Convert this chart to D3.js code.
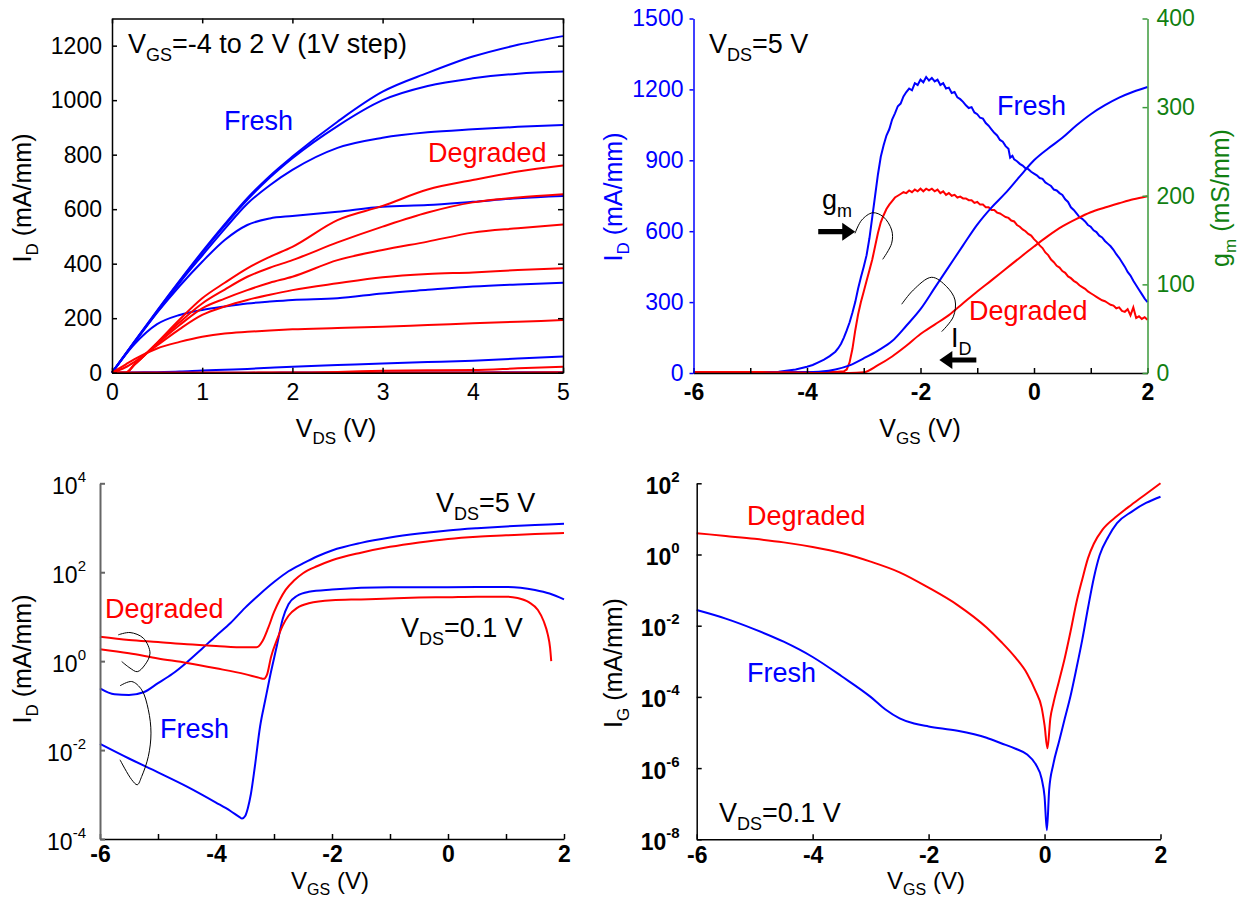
<!DOCTYPE html>
<html>
<head>
<meta charset="utf-8">
<script src="https://cdn.jsdelivr.net/npm/d3@7"></script>
<style>
  body { margin: 0; background: #fff; }
  svg { display: block; font-family: "Liberation Sans", Arial, Helvetica, sans-serif; }
</style>
</head>
<body>
<svg id="fig" width="1240" height="901"></svg>
<script>
// ---------- (a) output characteristics, I_D vs V_DS, V_GS = 2 ... -4 V ----------
const vdsFresh = [0, 0.25, 0.5, 0.75, 1, 1.25, 1.5, 1.75, 2, 2.5, 3, 3.5, 4, 4.5, 5];
const idFreshOut = [
  [0, 115, 228, 338, 444, 545, 640, 722, 793, 921, 1031, 1100, 1160, 1203, 1235], // 2 V
  [0, 114, 226, 335, 440, 540, 634, 716, 787, 905, 1000, 1052, 1080, 1097, 1105], // 1 V
  [0, 112, 222, 330, 430, 528, 620, 688, 744, 825, 862, 882, 893, 902, 909],      // 0 V
  [0, 112, 220, 318, 407, 487, 542, 566, 575, 591, 609, 615, 627, 640, 648],      // -1 V
  [0, 105, 178, 212, 230, 243, 254, 261, 267, 273, 291, 304, 316, 324, 330],      // -2 V
  [0, 1, 2, 4, 8, 11, 14, 18, 22, 28, 34, 39, 44, 52, 59],                        // -3 V
  [0, 0, 0, 0, 0, 0, 0, 0, 1, 1, 1, 1, 1, 2, 2]                                   // -4 V
];
const vdsDegraded = [0, 0.15, 0.25, 0.5, 0.75, 1, 1.25, 1.5, 1.75, 2, 2.5, 3, 3.5, 4, 4.5, 5];
const idDegradedOut = [
  [0, 0, 30, 110, 195, 273, 330, 383, 425, 462, 560, 612, 672, 707, 738, 760],
  [0, 0, 30, 108, 185, 254, 305, 352, 385, 413, 478, 536, 588, 625, 643, 655],
  [0, 0, 30, 105, 175, 236, 272, 303, 330, 352, 413, 450, 481, 514, 530, 544],
  [0, 20, 40, 100, 160, 212, 243, 267, 286, 303, 328, 350, 362, 368, 377, 383],
  [0, 30, 50, 89, 113, 132, 144, 150, 155, 159, 164, 169, 175, 181, 187, 193],
  [0, 0, 0, 0, 0, 0, 0, 0, 1, 1, 3, 7, 9, 10, 16, 22],
  [0, 0, 0, 0, 0, 0, 0, 0, 0, 0, 0, 0, 1, 1, 1, 2]
];
const outXTicks = [0, 1, 2, 3, 4, 5];
const outYTicks = [0, 200, 400, 600, 800, 1000, 1200];

// ---------- (b) transfer characteristics at V_DS = 5 V ----------
const vgsTransfer = [-6, -5, -4.5, -4, -3.75, -3.5, -3.25, -3, -2.75, -2.5, -2.25, -2, -1.75, -1.5,
  -1.25, -1, -0.75, -0.5, -0.25, 0, 0.25, 0.5, 0.75, 1, 1.25, 1.5, 1.75, 2];
const idFreshTransfer = [0, 0, 1, 3, 6, 15, 32, 62, 95, 135, 200, 270, 360, 450,
  540, 628, 700, 762, 832, 900, 950, 995, 1048, 1095, 1133, 1165, 1190, 1210];
const idDegradedTransfer = [0, 0, 0, 0, 0, 0, 0, 3, 33, 70, 115, 165, 205, 245,
  295, 345, 392, 440, 488, 535, 580, 620, 652, 680, 700, 718, 735, 748];
const gmFresh = [
  [-6,0],[-5.5,0.5],[-5,1],[-4.5,1.5],[-4.2,4],[-4,7],[-3.9,9],[-3.8,12],[-3.7,15],[-3.6,19],
  [-3.5,24],[-3.45,28],[-3.4,33],[-3.35,40],[-3.3,48],[-3.25,57],[-3.2,68],[-3.15,80],[-3.1,95],
  [-3.05,108],[-3.0,120],[-2.95,133],[-2.9,152],[-2.85,176],[-2.8,200],[-2.75,224],[-2.7,244],
  [-2.65,257],[-2.6,268],[-2.55,275],[-2.5,286],[-2.45,293],[-2.4,301],[-2.35,304],[-2.3,312],
  [-2.25,317],[-2.2,321],[-2.15,319],[-2.1,327],[-2.05,325],[-2.0,331],[-1.95,328],[-1.9,334],
  [-1.85,330],[-1.8,333],[-1.75,329],[-1.7,331],[-1.65,325],[-1.6,327],[-1.55,321],[-1.5,322],
  [-1.45,316],[-1.4,317],[-1.35,311],[-1.3,309],[-1.25,306],[-1.2,302],[-1.15,299],[-1.1,300],
  [-1.05,294],[-1.0,292],[-0.95,288],[-0.9,287],[-0.85,282],[-0.8,279],[-0.75,275],[-0.7,271],
  [-0.65,268],[-0.6,263],[-0.55,261],[-0.5,256],[-0.45,253],[-0.42,243],[-0.38,245],[-0.35,241],
  [-0.3,239],[-0.25,236],[-0.2,234],[-0.15,231],[-0.1,230],[-0.05,227],[0,225],[0.05,223],
  [0.1,220],[0.15,219],[0.2,215],[0.25,213],[0.3,211],[0.35,207],[0.4,206],[0.45,203],[0.5,201],
  [0.55,196],[0.6,193],[0.65,187],[0.7,184],[0.75,180],[0.8,176],[0.85,174],[0.9,171],[0.95,167],
  [1.0,165],[1.05,161],[1.1,159],[1.15,155],[1.2,153],[1.25,149],[1.3,146],[1.35,143],[1.4,139],
  [1.45,134],[1.5,130],[1.55,125],[1.6,120],[1.65,114],[1.7,110],[1.75,104],[1.8,99],[1.85,94],
  [1.9,89],[1.95,84],[2.0,80]
];
const gmDegraded = [
  [-6,1],[-5,1],[-4,1],[-3.5,1],[-3.35,2],[-3.3,4],[-3.25,12],[-3.2,27],[-3.15,48],[-3.1,66],
  [-3.05,80],[-3.0,92],[-2.95,104],[-2.9,116],[-2.85,128],[-2.8,143],[-2.75,158],[-2.7,170],
  [-2.65,178],[-2.6,185],[-2.55,190],[-2.5,194],[-2.45,198],[-2.4,200],[-2.35,202],[-2.3,204],
  [-2.25,203],[-2.2,206],[-2.15,204],[-2.1,207],[-2.05,205],[-2.0,208],[-1.95,205],[-1.9,208],
  [-1.85,206],[-1.8,208],[-1.75,205],[-1.7,207],[-1.65,203],[-1.6,205],[-1.55,201],[-1.5,203],
  [-1.45,200],[-1.4,201],[-1.35,198],[-1.3,199],[-1.25,197],[-1.2,197],[-1.15,195],[-1.1,195],
  [-1.05,192],[-1.0,193],[-0.95,190],[-0.9,190],[-0.85,187],[-0.8,187],[-0.75,184],[-0.7,184],
  [-0.65,181],[-0.6,180],[-0.55,178],[-0.5,176],[-0.45,175],[-0.4,172],[-0.35,171],[-0.3,167],
  [-0.25,165],[-0.2,162],[-0.15,160],[-0.1,157],[-0.05,155],[0,151],[0.05,148],[0.1,144],
  [0.15,141],[0.2,136],[0.25,133],[0.3,128],[0.35,125],[0.4,121],[0.45,119],[0.5,115],[0.55,113],
  [0.6,109],[0.65,107],[0.7,104],[0.75,102],[0.8,99],[0.85,97],[0.9,95],[0.95,92],[1.0,90],
  [1.05,88],[1.1,86],[1.15,84],[1.2,82],[1.25,81],[1.3,79],[1.35,77],[1.4,76],[1.45,73],[1.5,74],
  [1.55,70],[1.6,69],[1.65,72],[1.7,65],[1.75,74],[1.8,62],[1.85,64],[1.9,61],[1.95,63],[2.0,60]
];
const vgsTicks = [-6, -5, -4, -3, -2, -1, 0, 1, 2];
const idLinTicks = [0, 300, 600, 900, 1200, 1500];
const gmTicks = [0, 100, 200, 300, 400];

// ---------- (c) sub-threshold I_D (log), V_DS = 5 V and 0.1 V ----------
const subFresh5 = [[-6,0.245],[-5.75,0.18],[-5.5,0.174],[-5.25,0.2],[-5,0.32],[-4.75,0.52],
  [-4.5,0.95],[-4.25,1.86],[-4,3.7],[-3.75,7.2],[-3.5,15.8],[-3.25,31.6],[-3,60],[-2.75,105],
  [-2.5,158],[-2.25,229],[-2,309],[-1.5,457],[-1,603],[-0.5,741],[0,871],[0.5,977],[1,1072],
  [1.5,1148],[2,1230]];
const subDegraded5 = [[-6,3.55],[-5.5,3.0],[-5,2.7],[-4.5,2.4],[-4,2.2],[-3.5,2.05],[-3.3,2.05],
  [-3.2,2.8],[-3.1,5.6],[-3,12.6],[-2.9,24],[-2.8,40],[-2.65,66],[-2.5,95],[-2.25,138],[-2,186],
  [-1.5,275],[-1,372],[-0.5,468],[0,562],[0.5,631],[1,676],[1.5,724],[2,759]];
const subFresh01 = [[-6,0.0138],[-5.5,0.00646],[-5,0.00316],[-4.5,0.00151],[-4,0.00066],
  [-3.75,0.000427],[-3.6,0.000316],[-3.55,0.000288],[-3.5,0.000324],[-3.45,0.0005],[-3.4,0.001],
  [-3.33,0.00427],[-3.24,0.0339],[-3.15,0.135],[-3.07,0.447],[-2.95,2.24],[-2.85,8.9],
  [-2.75,19.1],[-2.6,29.5],[-2.4,36.3],[-2,40.7],[-1,45.7],[0,45.7],[1,46.8],[1.25,44.7],
  [1.5,39.8],[1.75,33.1],[2,24.5]];
const subDegraded01 = [[-6,1.86],[-5.5,1.5],[-5,1.15],[-4.5,0.91],[-4,0.69],[-3.5,0.51],
  [-3.25,0.42],[-3.18,0.40],[-3.12,0.5],[-3.05,1.26],[-2.95,3.0],[-2.85,6.3],[-2.75,10.5],
  [-2.6,15.8],[-2.4,20],[-2,23.4],[-1.5,24.5],[-1,25.7],[-0.5,26.9],[0,27.5],[0.5,28.2],
  [1,28.2],[1.2,26.3],[1.4,20.9],[1.55,14.1],[1.65,7.9],[1.72,4.0],[1.76,2.0],[1.78,1.0]];
const subYTicks = [1e-4, 1e-2, 1, 1e2, 1e4];

// ---------- (d) gate leakage I_G (log), V_DS = 0.1 V ----------
const igFresh = [[-6,0.0275],[-5.5,0.0158],[-5,0.0079],[-4.5,0.00355],[-4,0.00132],[-3.5,3.8e-4],
  [-3,1.0e-4],[-2.75,4.5e-5],[-2.5,2.5e-5],[-2.25,1.78e-5],[-2,1.48e-5],[-1.5,1.12e-5],
  [-1,7.1e-6],[-0.75,5.0e-6],[-0.5,3.5e-6],[-0.3,2.4e-6],[-0.15,1.26e-6],[-0.05,5e-7],
  [0,1.6e-7],[0.04,1.8e-8],[0.08,2.5e-7],[0.15,1.26e-6],[0.25,5.6e-6],[0.35,2.5e-5],
  [0.45,1.1e-4],[0.55,6.3e-4],[0.65,4e-3],[0.75,0.032],[0.85,0.22],[0.95,0.95],[1.1,3.16],
  [1.25,7.6],[1.5,15.8],[1.75,28],[2,42]];
const igDegraded = [[-6,3.98],[-5.5,3.31],[-5,2.75],[-4.5,2.19],[-4,1.62],[-3.5,1.1],[-3,0.63],
  [-2.5,0.316],[-2,0.117],[-1.5,0.038],[-1,0.0089],[-0.75,0.00355],[-0.5,0.00126],[-0.3,4.5e-4],
  [-0.15,1.4e-4],[-0.05,5e-5],[0,1.6e-5],[0.05,3.6e-6],[0.1,2.5e-5],[0.15,6.3e-5],[0.25,2.8e-4],
  [0.35,1.26e-3],[0.45,7.1e-3],[0.55,0.045],[0.65,0.2],[0.75,0.79],[0.85,2.0],[1,5.0],
  [1.25,12],[1.5,25],[1.75,50],[2,100]];
const igXTicks = [-6, -4, -2, 0, 2];
const igYTicks = [1e-8, 1e-6, 1e-4, 1e-2, 1, 1e2];

// ---------- drawing ----------
const BLUE = "#0000ff", RED = "#ff0000", GREEN_TXT = "#118011", GREEN_AX = "#3b9a3b";
const svg = d3.select("#fig");

// text with sub/superscript runs: parts = [[text, "sub"|"sup"|undefined], ...]
function rich(sel, parts, size, small, shift) {
  let cur = 0;
  parts.forEach(([t, k]) => {
    const target = k === "sub" ? shift : k === "sup" ? -shift : 0;
    sel.append("tspan").attr("dy", target - cur).attr("font-size", k ? small : size).text(t);
    cur = target;
  });
  return sel;
}
function label(g, x, y, parts, color, size = 27) {
  const t = g.append("text").attr("x", x).attr("y", y).attr("fill", color);
  return rich(t, parts, size, Math.round(size * 0.68), Math.round(size * 0.28));
}
function axisTitle(g, x, y, parts, color, rotate, size = 25) {
  const t = g.append("text").attr("text-anchor", "middle").attr("fill", color)
    .attr("transform", `translate(${x},${y})` + (rotate ? " rotate(-90)" : ""));
  return rich(t, parts, size, Math.round(size * 0.68), Math.round(size * 0.26));
}
function styleAxis(g, color, width, fontSize, bold, txtColor) {
  g.attr("font-size", null).attr("font-family", null);
  g.selectAll("path.domain").attr("stroke", color).attr("stroke-width", width);
  g.selectAll(".tick line").attr("stroke", color).attr("stroke-width", width);
  g.selectAll(".tick text").attr("fill", txtColor || "#000")
    .style("font-size", fontSize + "px").style("font-weight", bold ? "bold" : "normal");
  return g;
}
// decade labels drawn as 10 with a raised exponent
function powerLabels(g) {
  g.selectAll(".tick text").each(function (d) {
    const t = d3.select(this);
    const e = Math.round(Math.log10(d));
    t.text(null).attr("dy", null).attr("y", 10);
    t.append("tspan").attr("font-size", 23).text("10");
    t.append("tspan").attr("dy", -12).attr("font-size", 15).text(String(e));
  });
}
const fmtPlain = d => String(d);

// ===== panel (a) =====
const x1 = d3.scaleLinear([0, 5], [112, 563]);
const y1 = d3.scaleLinear([0, 1300], [372.7, 18.4]);
const pA = svg.append("g");
const lineA = (xs) => d3.line().x((d, i) => x1(xs[i])).y(d => y1(d)).curve(d3.curveMonotoneX);
idFreshOut.forEach(s => pA.append("path").attr("d", lineA(vdsFresh)(s))
  .attr("fill", "none").attr("stroke", BLUE).attr("stroke-width", 2));
idDegradedOut.forEach(s => pA.append("path").attr("d", lineA(vdsDegraded)(s))
  .attr("fill", "none").attr("stroke", RED).attr("stroke-width", 2));

styleAxis(pA.append("g").attr("transform", `translate(0,${y1(0)})`)
  .call(d3.axisBottom(x1).tickValues(outXTicks).tickSizeInner(-5).tickSizeOuter(0).tickPadding(11).tickFormat(fmtPlain)),
  "#000", 1.5, 23, false);
styleAxis(pA.append("g").attr("transform", `translate(${x1(0)},0)`)
  .call(d3.axisLeft(y1).tickValues(outYTicks).tickSizeInner(-5).tickSizeOuter(0).tickPadding(10).tickFormat(fmtPlain)),
  "#000", 1.5, 23, false);
styleAxis(pA.append("g").attr("transform", `translate(0,${y1(1300)})`)
  .call(d3.axisTop(x1).tickValues(outXTicks).tickSizeInner(-5).tickSizeOuter(0).tickFormat("")),
  "#000", 1.5, 23, false);
styleAxis(pA.append("g").attr("transform", `translate(${x1(5)},0)`)
  .call(d3.axisRight(y1).tickValues(outYTicks).tickSizeInner(-5).tickSizeOuter(0).tickFormat("")),
  "#000", 1.5, 23, false);

label(pA, 128, 53, [["V"], ["GS", "sub"], ["=-4 to 2 V (1V step)"]], "#000");
label(pA, 224, 130, [["Fresh"]], BLUE);
label(pA, 428, 162, [["Degraded"]], RED);
axisTitle(pA, 31, 198, [["I"], ["D", "sub"], [" (mA/mm)"]], "#000", true);
axisTitle(pA, 336, 437, [["V"], ["DS", "sub"], [" (V)"]], "#000", false);

// ===== panel (b) =====
const x2 = d3.scaleLinear([-6, 2], [693.5, 1147.5]);
const y2 = d3.scaleLinear([0, 1500], [373, 18.5]);
const y2r = d3.scaleLinear([0, 400], [373, 18.5]);
const pB = svg.append("g");
const lineId = d3.line().x((d, i) => x2(vgsTransfer[i])).y(d => y2(d)).curve(d3.curveMonotoneX);
const lineGm = d3.line().x(d => x2(d[0])).y(d => y2r(d[1]));
pB.append("path").attr("d", lineGm(gmFresh)).attr("fill", "none").attr("stroke", BLUE).attr("stroke-width", 2);
pB.append("path").attr("d", lineGm(gmDegraded)).attr("fill", "none").attr("stroke", RED).attr("stroke-width", 2);
pB.append("path").attr("d", lineId(idFreshTransfer)).attr("fill", "none").attr("stroke", BLUE).attr("stroke-width", 2);
pB.append("path").attr("d", lineId(idDegradedTransfer)).attr("fill", "none").attr("stroke", RED).attr("stroke-width", 2);

styleAxis(pB.append("g").attr("transform", `translate(0,${y2(0)})`)
  .call(d3.axisBottom(x2).tickValues(vgsTicks).tickSizeInner(-5).tickSizeOuter(0).tickPadding(11)
    .tickFormat(d => d % 2 === 0 ? String(d) : "")),
  "#000", 1.5, 23, true);
styleAxis(pB.append("g").attr("transform", `translate(${x2(-6)},0)`)
  .call(d3.axisLeft(y2).tickValues(idLinTicks).tickSizeInner(4).tickSizeOuter(0).tickPadding(6).tickFormat(fmtPlain)),
  BLUE, 1.5, 23, false, BLUE);
styleAxis(pB.append("g").attr("transform", `translate(${x2(2)},0)`)
  .call(d3.axisRight(y2r).tickValues(gmTicks).tickSizeInner(-5).tickSizeOuter(0).tickPadding(9).tickFormat(fmtPlain)),
  GREEN_AX, 1.5, 23, false, GREEN_TXT);

// annotation arcs and arrows (arc points in V_GS / I_D units)
const arcLine = d3.line().x(d => x2(d[0])).y(d => y2(d[1])).curve(d3.curveCatmullRom);
const gmArc = [[-3.154, 591], [-3.036, 647], [-2.842, 678], [-2.656, 661], [-2.508, 605], [-2.508, 549], [-2.666, 481]];
const idArc = [[-2.331, 291], [-2.127, 351], [-1.803, 405], [-1.538, 365], [-1.392, 309], [-1.422, 238], [-1.627, 175]];
[gmArc, idArc].forEach(a => pB.append("path").attr("d", arcLine(a))
  .attr("fill", "none").attr("stroke", "#000").attr("stroke-width", 1));
function arrow(g, tx, ty, dir) {
  // solid arrow of fixed pixel size with its tip at (tx, ty); dir = 1 points right, -1 left
  const L = 37, H = 13, hw = 9, sw = 2.6;
  const p = [[0, 0], [-H, -hw], [-H, -sw], [-L, -sw], [-L, sw], [-H, sw], [-H, hw]]
    .map(([a, b]) => [tx + dir * a, ty + b]);
  g.append("path").attr("d", "M" + p.map(q => q.join(",")).join("L") + "Z").attr("fill", "#000");
}
arrow(pB, x2(-3.15), y2(598), 1);
arrow(pB, x2(-1.668), y2(55), -1);

label(pB, 709, 53, [["V"], ["DS", "sub"], ["=5 V"]], "#000");
label(pB, 997, 115, [["Fresh"]], BLUE);
label(pB, 969, 320, [["Degraded"]], RED);
label(pB, 822, 209, [["g"], ["m", "sub"]], "#000");
label(pB, 951, 347, [["I"], ["D", "sub"]], "#000");
axisTitle(pB, 622, 197, [["I"], ["D", "sub"], [" (mA/mm)"]], BLUE, true);
axisTitle(pB, 1229, 198, [["g"], ["m", "sub"], [" (mS/mm)"]], GREEN_TXT, true);
axisTitle(pB, 920, 437, [["V"], ["GS", "sub"], [" (V)"]], "#000", false);

// ===== panel (c) =====
const x3 = d3.scaleLinear([-6, 2], [100, 564]);
const y3 = d3.scaleLog([1e-4, 1e4], [839, 483.3]);
const pC = svg.append("g");
const lineC = d3.line().x(d => x3(d[0])).y(d => y3(d[1])).curve(d3.curveMonotoneX);
[[subFresh5, BLUE], [subDegraded5, RED], [subFresh01, BLUE], [subDegraded01, RED]].forEach(([s, c]) =>
  pC.append("path").attr("d", lineC(s)).attr("fill", "none").attr("stroke", c).attr("stroke-width", 2));

styleAxis(pC.append("g").attr("transform", `translate(0,${y3(1e-4)})`)
  .call(d3.axisBottom(x3).tickValues(vgsTicks).tickSizeInner(-5).tickSizeOuter(0).tickPadding(7)
    .tickFormat(d => d % 2 === 0 ? String(d) : "")),
  "#000", 1.5, 23, true);
const gC2 = styleAxis(pC.append("g").attr("transform", `translate(${x3(-6)},0)`)
  .call(d3.axisLeft(y3).tickValues(subYTicks).tickSizeInner(-5).tickSizeOuter(0).tickPadding(14).tickFormat(d => d)),
  "#666", 2, 23, false);
powerLabels(gC2);

const arcLog = d3.line().x(d => x3(d[0])).y(d => y3(d[1])).curve(d3.curveCatmullRom);
const degArc = [[-5.686, 3.9], [-5.483, 4.4], [-5.253, 3.29], [-5.138, 1.51], [-5.224, 0.83], [-5.357, 0.58], [-5.483, 0.70], [-5.626, 0.98]];
const freshArc = [[-5.655, 0.279], [-5.453, 0.348], [-5.281, 0.226], [-5.167, 0.081], [-5.121, 0.0241], [-5.167, 0.00718],
  [-5.281, 0.00255], [-5.357, 0.00166], [-5.453, 0.00215], [-5.655, 0.00605]];
[degArc, freshArc].forEach(a => pC.append("path").attr("d", arcLog(a))
  .attr("fill", "none").attr("stroke", "#000").attr("stroke-width", 1));

label(pC, 436, 512, [["V"], ["DS", "sub"], ["=5 V"]], "#000");
label(pC, 401, 637, [["V"], ["DS", "sub"], ["=0.1 V"]], "#000");
label(pC, 105, 618, [["Degraded"]], RED);
label(pC, 160, 738, [["Fresh"]], BLUE);
axisTitle(pC, 31, 659, [["I"], ["D", "sub"], [" (mA/mm)"]], "#000", true);
axisTitle(pC, 330, 889, [["V"], ["GS", "sub"], [" (V)"]], "#000", false, 24);

// ===== panel (d) =====
const x4 = d3.scaleLinear([-6, 2], [696.7, 1160.5]);
const y4 = d3.scaleLog([1e-8, 1e2], [839.3, 483.3]);
const pD = svg.append("g");
const lineD = d3.line().x(d => x4(d[0])).y(d => y4(d[1])).curve(d3.curveMonotoneX);
pD.append("path").attr("d", lineD(igFresh)).attr("fill", "none").attr("stroke", BLUE).attr("stroke-width", 2);
pD.append("path").attr("d", lineD(igDegraded)).attr("fill", "none").attr("stroke", RED).attr("stroke-width", 2);

styleAxis(pD.append("g").attr("transform", `translate(0,${y4(1e-8)})`)
  .call(d3.axisBottom(x4).tickValues(igXTicks).tickSizeInner(-5).tickSizeOuter(0).tickPadding(7).tickFormat(fmtPlain)),
  "#000", 1.5, 23, true);
const gD2 = styleAxis(pD.append("g").attr("transform", `translate(${x4(-6)},0)`)
  .call(d3.axisLeft(y4).tickValues(igYTicks).tickSizeInner(-5).tickSizeOuter(0).tickPadding(17).tickFormat(d => d)),
  "#000", 1.5, 23, true);
powerLabels(gD2);

label(pD, 747, 525, [["Degraded"]], RED);
label(pD, 747, 682, [["Fresh"]], BLUE);
label(pD, 719, 822, [["V"], ["DS", "sub"], ["=0.1 V"]], "#000");
axisTitle(pD, 622, 663, [["I"], ["G", "sub"], [" (mA/mm)"]], "#000", true);
axisTitle(pD, 926, 889, [["V"], ["GS", "sub"], [" (V)"]], "#000", false, 24);
</script>
</body>
</html>
